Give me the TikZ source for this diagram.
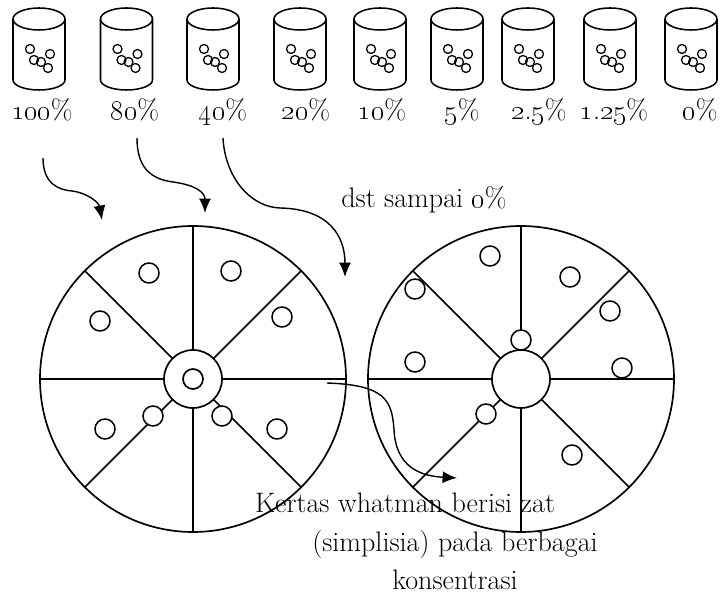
\documentclass[tikz,border=0pt]{standalone}
\usepackage{fix-cm}
\usepackage{tikz}
\usetikzlibrary{arrows.meta}

\tikzset{
	jarline/.style={line width=1.1pt},
	beadline/.style={line width=0.9pt},
	wheelline/.style={line width=1.2pt},
	spot/.style={line width=1.1pt, fill=white},
	arr/.style={line width=1pt, -{Latex[length=0.36cm,width=0.3cm]}},
	lbl/.style={font=\fontsize{20}{24}\selectfont, inner sep=0pt, anchor=base}
}

% one jar of solution, #1 = x of its axis
\newcommand\drawjar[1]{%
	\draw[jarline] (#1-26,578) -- (#1-26,517) arc (180:360:26 and 10) -- (#1+26,578);
	\draw[jarline] (#1,578) ellipse (26 and 11);
	\foreach \dx/\dy in {-9/8,-5/-3,2/-5,11/3,9/-11}
		\draw[beadline] (#1+\dx,540+\dy) circle (4.5);
}
\newcommand\osn[1]{\oldstylenums{#1}}

\begin{document}
\begin{tikzpicture}[x=0.025cm, y=0.025cm]
			%%%%% START %%%%%
			\useasboundingbox (0,0) rectangle (724,597);
			
			\drawjar{39}
			\drawjar{126.5}
			\drawjar{213}
			\drawjar{300}
			\drawjar{380}
			\drawjar{457}
			\drawjar{528}
			\drawjar{610}
			\drawjar{691}
			
			\node[lbl] (p100) at (42,477) {\osn{100}\%};
			\node[lbl] (p80) at (135,477) {\osn{80}\%};
			\node[lbl] (p40) at (223,477) {\osn{40}\%};
			\node[lbl] (p20) at (306,477) {\osn{20}\%};
			\node[lbl] (p10) at (382,477) {\osn{10}\%};
			\node[lbl] (p5) at (462,477) {\osn{5}\%};
			\node[lbl] (p25) at (539,477) {\osn{2}.\osn{5}\%};
			\node[lbl] (p125) at (614,477) {\osn{1}.\osn{25}\%};
			\node[lbl] (p0) at (700,477) {\osn{0}\%};
			
			\node[lbl] (dst) at (424,389) {dst sampai \osn{0}\%};
			
			% left paper disc
			\coordinate (wl) at (193,218);
			\draw[wheelline] (wl) circle (153);
			\draw[wheelline] (wl) circle (29);
			\draw[wheelline] (wl) circle (10);
			\foreach \a in {0,45,...,315}
				\draw[wheelline] (wl) ++(\a:29) -- ++(\a:124);
			\begin{scope}[shift={(wl)}]
				\foreach \p in {(-44,106),(38,108),(-93,58),(89,62),(-88,-50),(-40,-37),(29,-37),(84,-50)}
					\draw[spot] \p circle (10);
			\end{scope}
			
			% right paper disc
			\coordinate (wr) at (521,218);
			\draw[wheelline] (wr) circle (153);
			\draw[wheelline] (wr) circle (29);
			\foreach \a in {0,45,...,315}
				\draw[wheelline] (wr) ++(\a:29) -- ++(\a:124);
			\begin{scope}[shift={(wr)}]
				\foreach \p in {(-31,123),(49,102),(-106,90),(89,68),(0,39),(-106,17),(101,11),(-35,-35),(51,-76)}
					\draw[spot] \p circle (10);
			\end{scope}
			
			\node[lbl] (k1) at (405,84) {Kertas whatman berisi zat};
			\node[lbl] (k2) at (455,45) {(simplisia) pada berbagai};
			\node[lbl] (k3) at (455,7) {konsentrasi};
			
			% arrows
			\coordinate (s1) at (43,439);
			\coordinate (t1) at (102,377);
			\coordinate (s2) at (137,459);
			\coordinate (t2) at (205,384);
			\coordinate (s3) at (223,459);
			\coordinate (t3) at (345,320);
			\coordinate (s4) at (327,214);
			\coordinate (t4) at (457,119);
			
			\draw[arr] (s1) .. controls (43,412) and (60,407) .. (72,406) .. controls (88,404) and (99,394) .. (t1);
			\draw[arr] (s2) .. controls (137,430) and (150,418) .. (173,415) .. controls (195,412) and (205,405) .. (t2);
			\draw[arr] (s3) .. controls (225,420) and (250,390) .. (280,389) .. controls (330,388) and (345,360) .. (t3);
			\draw[arr] (s4) .. controls (385,212) and (392,197) .. (394,167) .. controls (396,130) and (420,121) .. (t4);
			
			%%%%% END %%%%%
\end{tikzpicture}
\end{document}
